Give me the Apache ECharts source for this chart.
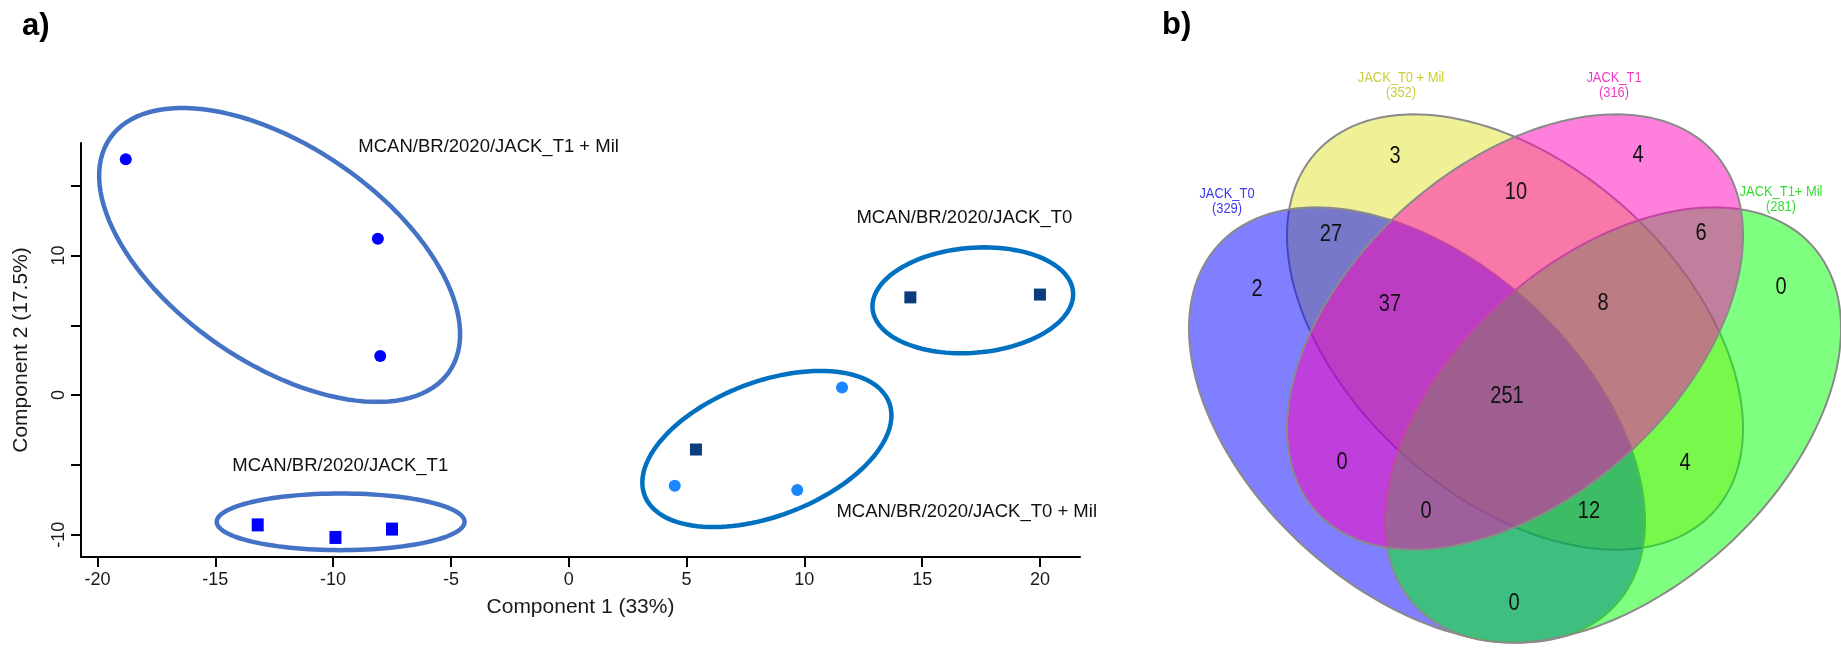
<!DOCTYPE html>
<html><head><meta charset="utf-8">
<script src="https://cdn.jsdelivr.net/npm/echarts@6/dist/echarts.min.js"></script>
<style>html,body{margin:0;padding:0;background:#fff}#c{width:1841px;height:651px}</style>
</head><body><div id="c"></div>
<script>
// ---------- Panel a: PLS-DA score plot ----------
const groupNames = ['MCAN/BR/2020/JACK_T1 + Mil', 'MCAN/BR/2020/JACK_T1', 'MCAN/BR/2020/JACK_T0', 'MCAN/BR/2020/JACK_T0 + Mil'];
const t1MilPoints = [[-18.8, 16.9], [-8.1, 11.2], [-8.0, 2.8]];
const t1Points = [[-13.2, -9.3], [-9.9, -10.2], [-7.5, -9.6]];
const t0Points = [[14.5, 7.0], [20.0, 7.2], [5.4, -3.9]];
const t0MilPoints = [[11.6, 0.55], [4.5, -6.5], [9.7, -6.8]];
// group ellipses: centre x, centre y, half-width (x units), half-height (y units), tilt (deg)
const groupEllipses = [[-12.27, 10.04, 8.74, 7.77, -34.5], [-9.68, -9.08, 5.26, 2.03, 0], [17.15, 6.79, 4.27, 3.76, 4.75], [8.41, -3.86, 5.55, 4.81, 20.8]];
const xTicks = [-20, -15, -10, -5, 0, 5, 10, 15, 20];
const yTicks = [-10, -5, 0, 5, 10, 15];
const yTickLabels = [-10, 0, 10];
const xTitle = 'Component 1 (33%)';
const yTitle = 'Component 2 (17.5%)';

// ---------- Panel b: Venn diagram ----------
const vennSets = ['JACK_T0', 'JACK_T0 + Mil', 'JACK_T1', 'JACK_T1+ Mil'];
const vennTotals = [329, 352, 316, 281];
const vennCounts = [3, 4, 10, 27, 6, 2, 37, 8, 0, 251, 0, 4, 0, 12, 0];

// ---------- layout (not data) ----------
const groupLabelAnchors = [[-8.93, 17.78], [-14.28, -5.09], [12.21, 12.67], [11.36, -8.37]];
const vennShapes = [ // cx, cy, a, b, angle  (venn layout units, 1 unit = 1 px)
  [-98, -93, 268, 166, -42],
  [0, 0, 268, 166, -42],
  [0, 0, 268, 166, 42],
  [98, -93, 268, 166, 42]
];
const vennDrawOrder = [1, 0, 3, 2];
const vennFills = ['rgba(0,0,255,0.5)', 'rgba(225,225,45,0.5)', 'rgba(255,0,187,0.5)', 'rgba(0,255,0,0.5)'];
const vennLabelColors = ['#3a3af2', '#cccc3c', '#ee3cc4', '#33dd33'];
const vennCountPos = [[-120, 175], [123, 176], [1, 139], [-184, 97], [186, 98], [-258, 42], [-125, 27], [88, 28], [266, 44], [-8, -65], [-173, -131], [170, -132], [-89, -180], [74, -180], [-1, -272]];
const vennSetPos = [[-288, 131], [-114, 247], [99, 247], [266, 133]];

const FONT = "'Liberation Sans', Arial, sans-serif";

function ellipsePixelPoints(c, rx, ry, angDeg) {
  const A = angDeg * Math.PI / 180, pts = [];
  for (let i = 0; i < 120; i++) {
    const t = i / 120 * Math.PI * 2;
    const lx = rx * Math.cos(t), ly = ry * Math.sin(t);
    pts.push([c[0] + lx * Math.cos(A) + ly * Math.sin(A), c[1] - lx * Math.sin(A) + ly * Math.cos(A)]);
  }
  return pts;
}

const chart = echarts.init(document.getElementById('c'), null, {renderer: 'canvas'});
const option = {
  animation: false,
  backgroundColor: '#fff',
  graphic: [
    {type: 'text', left: 22, top: 11, style: {text: 'a)', font: 'bold 31px ' + FONT, fill: '#000'}},
    {type: 'text', left: 1162, top: 10, style: {text: 'b)', font: 'bold 31px ' + FONT, fill: '#000'}}
  ],
  grid: [
    {left: 81, top: 143, right: 761, bottom: 94},
    {left: 1185, top: 60, right: 0, bottom: 0}
  ],
  xAxis: [
    {
      type: 'value', gridIndex: 0, min: -20.7, max: 21.7,
      name: xTitle, nameLocation: 'middle', nameGap: 40,
      nameTextStyle: {fontFamily: FONT, fontSize: 21, color: '#1a1a1a'},
      axisLine: {onZero: false, lineStyle: {color: '#000', width: 2}},
      axisTick: {customValues: xTicks, length: 10, lineStyle: {color: '#000', width: 2}},
      axisLabel: {customValues: xTicks, margin: 14, fontFamily: FONT, fontSize: 18, color: '#1a1a1a'},
      splitLine: {show: false}
    },
    {type: 'value', gridIndex: 1, min: -330, max: 326, show: false}
  ],
  yAxis: [
    {
      type: 'value', gridIndex: 0, min: -11.6, max: 18.06,
      name: yTitle, nameLocation: 'middle', nameGap: 49, nameRotate: 90,
      nameTextStyle: {fontFamily: FONT, fontSize: 21, color: '#1a1a1a'},
      axisLine: {onZero: false, lineStyle: {color: '#000', width: 2}},
      axisTick: {customValues: yTicks, length: 10, lineStyle: {color: '#000', width: 2}},
      axisLabel: {customValues: yTickLabels, rotate: 90, margin: 13, fontFamily: FONT, fontSize: 18, color: '#1a1a1a'},
      splitLine: {show: false}
    },
    {type: 'value', gridIndex: 1, min: -319, max: 272, show: false}
  ],
  series: [
    {
      type: 'custom', xAxisIndex: 0, yAxisIndex: 0, clip: false, silent: true, z: 2,
      data: groupEllipses,
      renderItem: function (params, api) {
        const c = api.coord([api.value(0), api.value(1)]);
        const s = api.size([1, 1]);
        const pts = ellipsePixelPoints(c, api.value(2) * s[0], api.value(3) * s[1], api.value(4));
        const col = params.dataIndex < 2 ? '#4472c4' : '#0070c0';
        return {type: 'polygon', shape: {points: pts}, style: {fill: 'none', stroke: col, lineWidth: 4.5}};
      }
    },
    {type: 'scatter', name: groupNames[0], xAxisIndex: 0, yAxisIndex: 0, data: t1MilPoints, symbol: 'circle', symbolSize: 12, itemStyle: {color: '#0000ff', opacity: 1}, z: 3},
    {type: 'scatter', name: groupNames[1], xAxisIndex: 0, yAxisIndex: 0, data: t1Points, symbol: 'rect', symbolSize: [12, 13], itemStyle: {color: '#0000ff', opacity: 1}, z: 3},
    {type: 'scatter', name: groupNames[2], xAxisIndex: 0, yAxisIndex: 0, data: t0Points, symbol: 'rect', symbolSize: 12, itemStyle: {color: '#0b3c7e', opacity: 1}, z: 3},
    {type: 'scatter', name: groupNames[3], xAxisIndex: 0, yAxisIndex: 0, data: t0MilPoints, symbol: 'circle', symbolSize: 12, itemStyle: {color: '#1a86ff', opacity: 1}, z: 3},
    {
      type: 'custom', xAxisIndex: 0, yAxisIndex: 0, clip: false, silent: true, z: 4,
      data: groupLabelAnchors,
      renderItem: function (params, api) {
        const c = api.coord([api.value(0), api.value(1)]);
        return {type: 'text', x: c[0], y: c[1], style: {text: groupNames[params.dataIndex], font: '18.5px ' + FONT, fill: '#111', align: 'left', verticalAlign: 'middle'}};
      }
    },
    {
      type: 'custom', xAxisIndex: 1, yAxisIndex: 1, clip: false, silent: true, z: 2,
      data: vennDrawOrder.map(function (k) { return vennShapes[k].concat([k]); }),
      renderItem: function (params, api) {
        const k = api.value(5);
        const cx = api.value(0), cy = api.value(1), a = api.value(2), b = api.value(3);
        const A = api.value(4) * Math.PI / 180, pts = [];
        for (let i = 0; i < 160; i++) {
          const t = i / 160 * Math.PI * 2;
          const lx = a * Math.cos(t), ly = b * Math.sin(t);
          pts.push(api.coord([cx + lx * Math.cos(A) - ly * Math.sin(A), cy + lx * Math.sin(A) + ly * Math.cos(A)]));
        }
        return {type: 'polygon', shape: {points: pts}, style: {fill: vennFills[k], stroke: '#8a8a8a', lineWidth: 2}};
      }
    },
    {
      type: 'custom', xAxisIndex: 1, yAxisIndex: 1, clip: false, silent: true, z: 5,
      data: vennCountPos,
      renderItem: function (params, api) {
        const c = api.coord([api.value(0), api.value(1)]);
        return {type: 'text', x: c[0], y: c[1], scaleX: 0.87, style: {text: String(vennCounts[params.dataIndex]), font: '23px ' + FONT, fill: '#111', align: 'center', verticalAlign: 'middle'}};
      }
    },
    {
      type: 'custom', xAxisIndex: 1, yAxisIndex: 1, clip: false, silent: true, z: 5,
      data: vennSetPos,
      renderItem: function (params, api) {
        const c = api.coord([api.value(0), api.value(1)]);
        const i = params.dataIndex;
        return {type: 'text', x: c[0], y: c[1], scaleX: 0.86, style: {text: vennSets[i] + '\n(' + vennTotals[i] + ')', font: '15px ' + FONT, lineHeight: 15, fill: vennLabelColors[i], align: 'center', verticalAlign: 'middle'}};
      }
    }
  ]
};
chart.setOption(option);
</script>
</body></html>
